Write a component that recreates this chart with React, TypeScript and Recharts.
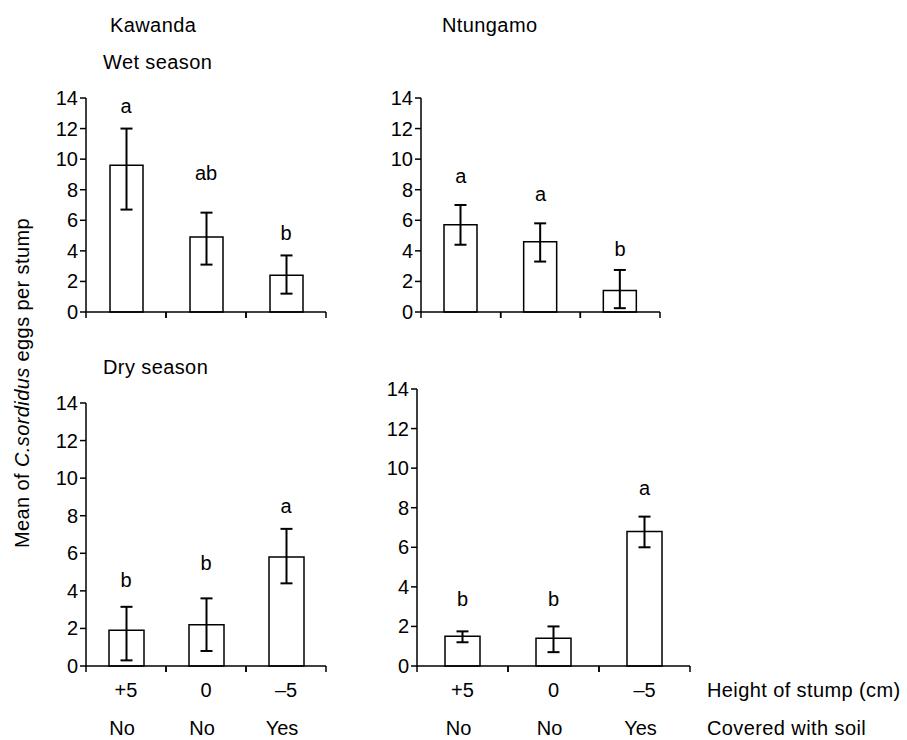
import React from 'react';
import { ComposedChart, Bar, Line, XAxis, YAxis, ErrorBar, LabelList } from 'recharts';

const stumpHeights = ['+5', '0', '\u20135'];
const coveredWithSoil = ['No', 'No', 'Yes'];
const yTicks = [0, 2, 4, 6, 8, 10, 12, 14];

// Kawanda, wet season
const kawandaWetMean = [9.6, 4.9, 2.4];
const kawandaWetLow = [6.7, 3.1, 1.2];
const kawandaWetHigh = [12.0, 6.5, 3.7];
const kawandaWetLetters = ['a', 'ab', 'b'];
const kawandaWetLetterAt = [13.5, 9.1, 5.2];

// Ntungamo, wet season
const ntungamoWetMean = [5.7, 4.6, 1.4];
const ntungamoWetLow = [4.4, 3.3, 0.25];
const ntungamoWetHigh = [7.0, 5.8, 2.75];
const ntungamoWetLetters = ['a', 'a', 'b'];
const ntungamoWetLetterAt = [8.9, 7.7, 4.1];

// Kawanda, dry season
const kawandaDryMean = [1.9, 2.2, 5.8];
const kawandaDryLow = [0.3, 0.8, 4.4];
const kawandaDryHigh = [3.15, 3.6, 7.3];
const kawandaDryLetters = ['b', 'b', 'a'];
const kawandaDryLetterAt = [4.6, 5.5, 8.5];

// Ntungamo, dry season
const ntungamoDryMean = [1.5, 1.4, 6.8];
const ntungamoDryLow = [1.2, 0.7, 6.0];
const ntungamoDryHigh = [1.75, 2.0, 7.55];
const ntungamoDryLetters = ['b', 'b', 'a'];
const ntungamoDryLetterAt = [3.4, 3.4, 9.0];

const FONT = '"Liberation Sans", Arial, Helvetica, sans-serif';
const FS = 20;

const buildRows = (mean: number[], low: number[], high: number[], letters: string[], letterAt: number[]) =>
  mean.map((m, i) => ({
    height: stumpHeights[i],
    mean: m,
    err: [m - low[i], high[i] - m],
    letter: letters[i],
    letterAt: letterAt[i],
  }));

// category tick: draws the boundary tick marks of its band plus the two label rows
const makeStumpTick = (band: number, showLabels: boolean) => (props: any) => {
  const { x, y, payload, index } = props;
  const axisY = y - 2;
  const half = band / 2;
  return (
    <g>
      <line x1={x - half} x2={x - half} y1={axisY} y2={axisY + 6} stroke="#000" strokeWidth={1.5} />
      <line x1={x + half} x2={x + half} y1={axisY} y2={axisY + 6} stroke="#000" strokeWidth={1.5} />
      {showLabels && (
        <>
          <text x={x} y={axisY} dy={24} textAnchor="middle" dominantBaseline="central" fontSize={FS} fontFamily={FONT} fill="#000">
            {payload.value}
          </text>
          <text x={x - 4} y={axisY} dy={62} textAnchor="middle" dominantBaseline="central" fontSize={FS} fontFamily={FONT} fill="#000">
            {coveredWithSoil[index]}
          </text>
        </>
      )}
    </g>
  );
};

const ValueTick = (props: any) => {
  const { x, y, payload } = props;
  return (
    <text x={x} y={y} textAnchor="end" dominantBaseline="central" fontSize={FS} fontFamily={FONT} fill="#000">
      {payload.value}
    </text>
  );
};

interface PanelProps {
  rows: any[];
  plotLeft: number;
  plotTop: number;
  plotW: number;
  plotH: number;
  barSize: number;
  showTicks: boolean;
}

const Y_W = 50;
const M_TOP = 15;
const M_RIGHT = 10;

const Panel: React.FC<PanelProps> = ({ rows, plotLeft, plotTop, plotW, plotH, barSize, showTicks }) => {
  const xH = showTicks ? 74 : 12;
  return (
    <div style={{ position: 'absolute', left: plotLeft - Y_W, top: plotTop - M_TOP }}>
      <ComposedChart
        width={Y_W + plotW + M_RIGHT}
        height={M_TOP + plotH + xH}
        data={rows}
        margin={{ top: M_TOP, right: M_RIGHT, bottom: 0, left: 0 }}
      >
        <XAxis
          dataKey="height"
          type="category"
          height={xH}
          tickSize={0}
          tickMargin={2}
          interval={0}
          axisLine={{ stroke: '#000', strokeWidth: 1.5 }}
          tickLine={false}
          tick={makeStumpTick(plotW / 3, showTicks)}
        />
        <YAxis
          width={Y_W}
          domain={[0, 14]}
          ticks={yTicks}
          interval={0}
          tickSize={6}
          tickMargin={2}
          axisLine={{ stroke: '#000', strokeWidth: 1.5 }}
          tickLine={{ stroke: '#000', strokeWidth: 1.5 }}
          tick={<ValueTick />}
        />
        <Bar dataKey="mean" fill="#fff" stroke="#000" strokeWidth={1.5} barSize={barSize} isAnimationActive={false}>
          <ErrorBar dataKey="err" direction="y" width={6} stroke="#000" strokeWidth={2} />
        </Bar>
        <Line dataKey="letterAt" stroke="none" dot={false} activeDot={false} legendType="none" isAnimationActive={false}>
          <LabelList dataKey="letter" position="center" fill="#000" fontSize={FS} fontFamily={FONT} />
        </Line>
      </ComposedChart>
    </div>
  );
};

const Label: React.FC<{ x: number; y: number; children: React.ReactNode }> = ({ x, y, children }) => (
  <div
    style={{
      position: 'absolute',
      left: x,
      top: y - 12,
      fontSize: FS,
      lineHeight: '24px',
      fontFamily: FONT,
      letterSpacing: 0.4,
      whiteSpace: 'nowrap',
      color: '#000',
    }}
  >
    {children}
  </div>
);

export default function App() {
  return (
    <div style={{ position: 'absolute', left: 0, top: 0, width: 907, height: 740, background: '#fff', overflow: 'hidden' }}>
      <Label x={110} y={25}>Kawanda</Label>
      <Label x={442} y={25}>Ntungamo</Label>
      <Label x={103} y={62}>Wet season</Label>
      <Label x={103} y={367}>Dry season</Label>
      <Label x={707} y={690}>Height of stump (cm)</Label>
      <Label x={707} y={728}>Covered with soil</Label>

      <div
        style={{
          position: 'absolute',
          left: 22,
          top: 383,
          transform: 'translate(-50%, -50%) rotate(-90deg)',
          fontSize: FS,
          fontFamily: FONT,
          letterSpacing: 0.4,
          whiteSpace: 'nowrap',
          color: '#000',
        }}
      >
        Mean of <i>C.sordidus</i> eggs per stump
      </div>

      <Panel
        rows={buildRows(kawandaWetMean, kawandaWetLow, kawandaWetHigh, kawandaWetLetters, kawandaWetLetterAt)}
        plotLeft={86}
        plotTop={98}
        plotW={240}
        plotH={214}
        barSize={33}
        showTicks={false}
      />
      <Panel
        rows={buildRows(ntungamoWetMean, ntungamoWetLow, ntungamoWetHigh, ntungamoWetLetters, ntungamoWetLetterAt)}
        plotLeft={421}
        plotTop={98}
        plotW={239}
        plotH={214}
        barSize={33}
        showTicks={false}
      />
      <Panel
        rows={buildRows(kawandaDryMean, kawandaDryLow, kawandaDryHigh, kawandaDryLetters, kawandaDryLetterAt)}
        plotLeft={86}
        plotTop={403}
        plotW={240}
        plotH={263}
        barSize={35}
        showTicks={true}
      />
      <Panel
        rows={buildRows(ntungamoDryMean, ntungamoDryLow, ntungamoDryHigh, ntungamoDryLetters, ntungamoDryLetterAt)}
        plotLeft={417}
        plotTop={389}
        plotW={273}
        plotH={277}
        barSize={35}
        showTicks={true}
      />
    </div>
  );
}
